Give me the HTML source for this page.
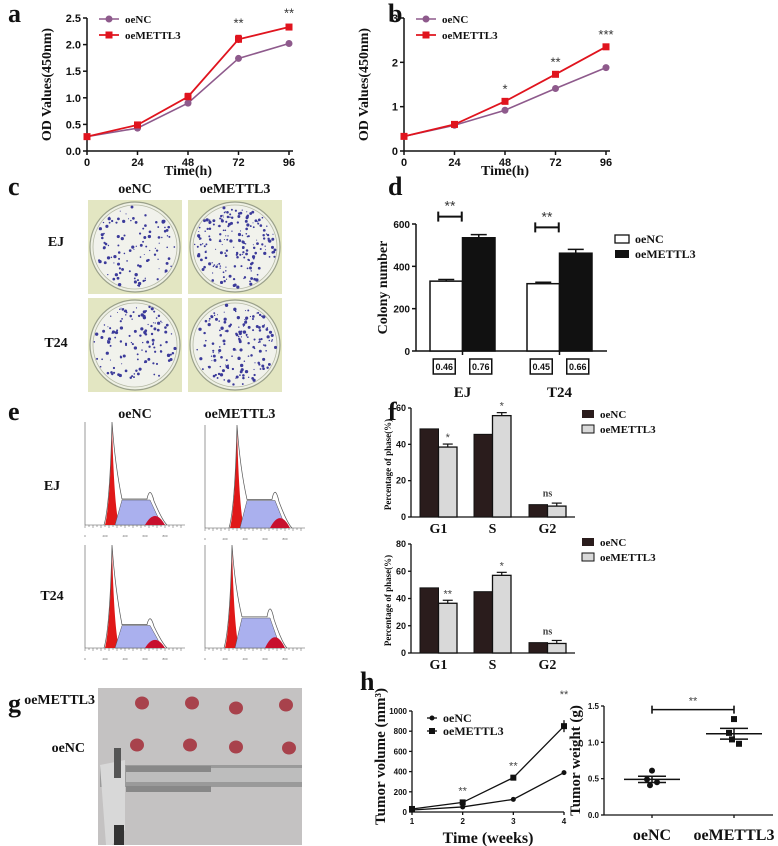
<!DOCTYPE html>
<html><head><meta charset="utf-8"><style>
body{margin:0;background:#fff}
svg{display:block;font-family:"Liberation Serif",serif}
</style></head><body>
<svg id="fig" width="778" height="846" viewBox="0 0 778 846" xmlns="http://www.w3.org/2000/svg">
<g id="root"></g>
</svg>
<script>
// ---- data ----
const timeH=[0,24,48,72,96];
const aNC=[0.27,0.43,0.9,1.74,2.02];
const aM=[0.27,0.49,1.02,2.1,2.33];
const aErr=[0.02,0.03,0.06,0.07,0.03];
const aStars=['','','','**','**'];
const bNC=[0.33,0.58,0.92,1.41,1.88];
const bM=[0.33,0.6,1.12,1.73,2.35];
const bStars=['','','*','**','***'];
const dCats=['EJ','T24'];
const dNC=[330,318];
const dM=[535,462];
const dErrNC=[8,7];
const dErrM=[15,18];
const dBox=[['0.46','0.76'],['0.45','0.66']];
const phases=['G1','S','G2'];
const fEJnc=[48.5,45.5,6.8];
const fEJm=[38.5,55.8,6.0];
const fEJstar=['*','*','ns'];
const fT24nc=[47.8,45.0,7.6];
const fT24m=[36.5,57.0,7.0];
const fT24star=['**','*','ns'];
const weeks=[1,2,3,4];
const hNC=[20,50,125,390];
const hM=[30,95,340,850];
const hStars=['','**','**','**'];
const wNC=[0.61,0.49,0.41,0.45];
const wM=[1.32,1.13,1.04,0.98];

const NS='http://www.w3.org/2000/svg';
const root=document.getElementById('root');
function el(tag,attrs,parent,txt){const e=document.createElementNS(NS,tag);for(const k in attrs)e.setAttribute(k,attrs[k]);if(txt!==undefined)e.textContent=txt;(parent||root).appendChild(e);return e;}
function txt(x,y,s,size,opts,parent){opts=opts||{};const e=el('text',{x:x,y:y,'font-size':size,'text-anchor':opts.a||'middle','font-weight':opts.w||'bold','font-family':opts.f||'Liberation Serif, serif',fill:opts.c||'#111'},parent,s);if(opts.r)e.setAttribute('transform','rotate(-90 '+x+' '+y+')');return e;}
function line(x1,y1,x2,y2,c,w,parent){return el('line',{x1:x1,y1:y1,x2:x2,y2:y2,stroke:c||'#111','stroke-width':w||1.5},parent);}
function lin(d0,d1,r0,r1){return v=>r0+(v-d0)/(d1-d0)*(r1-r0);}

[['a',8,22],['b',388,22],['c',8,195],['d',388,195],['e',8,420],['f',388,420],['g',8,712],['h',360,690]].forEach(p=>{
 const t=txt(p[1],p[2],p[0],26,{a:'start'});
 
 
});

function lineChart(name,x0,x1,y0,y1,ymax,ticks,tickFmt,nc,m,err,stars){
 const g=el('g',{});
 
 
 const X=lin(0,96,x0,x1),Y=lin(0,ymax,y0,y1);
 line(x0,y0,x0,y1,'#111',1.5,g);line(x0,y0,x1+4,y0,'#111',1.5,g);
 ticks.forEach(t=>{line(x0-4,Y(t),x0,Y(t),'#111',1.5,g);txt(x0-6,Y(t)+4,tickFmt(t),11,{a:'end',f:'Liberation Sans, sans-serif'},g);});
 timeH.forEach(t=>{line(X(t),y0,X(t),y0+4,'#111',1.5,g);txt(X(t),y0+15,String(t),11,{f:'Liberation Sans, sans-serif'},g);});
 txt((x0+x1)/2,y0+24,'Time(h)',14,{},g);
 txt(x0-36,(y0+y1)/2,'OD Values(450nm)',14,{r:1},g);
 const pN=timeH.map((t,i)=>X(t)+','+Y(nc[i])).join(' ');
 const pM=timeH.map((t,i)=>X(t)+','+Y(m[i])).join(' ');
 el('polyline',{points:pN,fill:'none',stroke:'#8e5a8c','stroke-width':1.6},g);
 el('polyline',{points:pM,fill:'none',stroke:'#e0141e','stroke-width':1.8},g);
 timeH.forEach((t,i)=>{
  const c=el('circle',{cx:X(t),cy:Y(nc[i]),r:3.5,fill:'#8e5a8c'},g);
  
  
  if(err){line(X(t),Y(m[i]-err[i]),X(t),Y(m[i]+err[i]),'#e0141e',1.5,g);line(X(t)-3,Y(m[i]+err[i]),X(t)+3,Y(m[i]+err[i]),'#e0141e',1.5,g);}
  const r=el('rect',{x:X(t)-3.5,y:Y(m[i])-3.5,width:7,height:7,fill:'#e0141e'},g);
  
  
  if(stars[i])txt(X(t),Y(m[i])-(err?err[i]*(y0-y1)/ymax:0)-8,stars[i],13,{w:'normal',f:'Liberation Sans, sans-serif',c:'#333'},g);
 });
 const lx=x0+12;
 line(lx,y1+1,lx+20,y1+1,'#8e5a8c',1.6,g);el('circle',{cx:lx+10,cy:y1+1,r:3.5,fill:'#8e5a8c'},g);
 txt(lx+26,y1+5,'oeNC',11,{a:'start'},g);
 line(lx,y1+17,lx+20,y1+17,'#e0141e',1.8,g);el('rect',{x:lx+6.5,y:y1+13.5,width:7,height:7,fill:'#e0141e'},g);
 txt(lx+26,y1+21,'oeMETTL3',11,{a:'start'},g);
}
lineChart('chart-a',87,289,151,18,2.5,[0,0.5,1,1.5,2,2.5],t=>t.toFixed(1),aNC,aM,aErr,aStars);
lineChart('chart-b',404,606,151,18,3,[0,1,2,3],t=>String(t),bNC,bM,null,bStars);

const cg=el('g',{});
txt(135,193,'oeNC',14,{},cg);txt(235,193,'oeMETTL3',14,{},cg);
txt(56,246,'EJ',14,{},cg);txt(56,347,'T24',14,{},cg);
let seed=7;function rnd(){seed=(seed*16807)%2147483647;return seed/2147483647;}
[[88,200,55],[188,200,100],[88,298,65],[188,298,80]].forEach(p=>{
 el('rect',{x:p[0],y:p[1],width:94,height:94,fill:'#e3e6c2'},cg);
 const cx=p[0]+47,cy=p[1]+47;
 el('circle',{cx:cx,cy:cy,r:45,fill:'#eef0e4',stroke:'#9aa08a','stroke-width':1.2},cg);
 el('circle',{cx:cx,cy:cy,r:42,fill:'#f1f2ec',stroke:'#b5b9a5','stroke-width':0.8},cg);
 for(let i=0;i<p[2]*2;i++){const a=rnd()*6.283,rr=Math.sqrt(rnd())*41;el('circle',{cx:cx+rr*Math.cos(a),cy:cy+rr*Math.sin(a),r:0.5+rnd()*1.2,fill:'#3b3a9a'},cg);}
});

(function(){
 const g=el('g',{});
 const x0=416,x1=607,y0=351,y1=224,Y=lin(0,600,y0,y1);
 line(x0,y0,x0,y1,'#111',1.5,g);line(x0,y0,x1,y0,'#111',1.5,g);
 [0,200,400,600].forEach(t=>{line(x0-4,Y(t),x0,Y(t),'#111',1.5,g);txt(x0-6,Y(t)+4,String(t),10,{a:'end',f:'Liberation Sans, sans-serif'},g);});
 txt(x0-29,(y0+y1)/2,'Colony number',14,{r:1},g);
 const groupX=[430,527];
 dCats.forEach((c,i)=>{
  const gx=groupX[i],bw=32.5;
  const b1=el('rect',{x:gx,y:Y(dNC[i]),width:bw,height:y0-Y(dNC[i]),fill:'#fff',stroke:'#111','stroke-width':1.5},g);
  
  const b2=el('rect',{x:gx+bw,y:Y(dM[i]),width:bw,height:y0-Y(dM[i]),fill:'#111',stroke:'#111','stroke-width':1.5},g);
  
  line(gx+bw/2,Y(dNC[i]),gx+bw/2,Y(dNC[i]+dErrNC[i]),'#111',1.5,g);line(gx+bw/2-8,Y(dNC[i]+dErrNC[i]),gx+bw/2+8,Y(dNC[i]+dErrNC[i]),'#111',1.5,g);
  line(gx+1.5*bw,Y(dM[i]),gx+1.5*bw,Y(dM[i]+dErrM[i]),'#111',1.5,g);line(gx+1.5*bw-8,Y(dM[i]+dErrM[i]),gx+1.5*bw+8,Y(dM[i]+dErrM[i]),'#111',1.5,g);
  line(gx+bw,y0,gx+bw,y0+4,'#111',1.5,g);
  const by=Y(Math.max(dM[i]+dErrM[i],dNC[i]))-(i?22:18);
  const bx1=gx+bw/2-8,bx2=gx+1.5*bw-17;
  line(bx1,by,bx2,by,'#111',2,g);line(bx1,by-5,bx1,by+5,'#111',2,g);line(bx2,by-5,bx2,by+5,'#111',2,g);
  txt((bx1+bx2)/2,by-6,'**',14,{w:'normal',f:'Liberation Sans, sans-serif',c:'#333'},g);
  [0,1].forEach(j=>{const cx=gx+bw/2+j*bw+(j?2:-2);el('rect',{x:cx-11,y:359,width:22,height:15,fill:'#fff',stroke:'#111','stroke-width':1.5},g);txt(cx,370,dBox[i][j],9,{f:'Liberation Sans, sans-serif'},g);});
  txt(gx+bw,397,c,15,{},g);
 });
 el('rect',{x:615,y:235,width:14,height:8,fill:'#fff',stroke:'#111','stroke-width':1.3},g);
 txt(635,243,'oeNC',12,{a:'start'},g);
 el('rect',{x:615,y:250,width:14,height:8,fill:'#111'},g);
 txt(635,258,'oeMETTL3',12,{a:'start'},g);
})();

const eg=el('g',{});
txt(135,418,'oeNC',14,{},eg);txt(240,418,'oeMETTL3',14,{},eg);
txt(52,490,'EJ',14,{},eg);txt(52,600,'T24',14,{},eg);
[[85,422,0,1],[205,425,15,1.1],[85,545,0,0.9],[205,545,0,1.2]].forEach(p=>{
 const x=p[0],y=p[1],ox=p[2],s=p[3];const b=y+103;
 line(x,y,x,b,'#555',0.6,eg);line(x,b,x+100,b,'#555',0.6,eg);
 for(let i=0;i<=24;i++)line(x+i*4,b,x+i*4,b+(i%2?2:3),'#555',0.5,eg);
 const px=x+27+ox/3;
 el('path',{d:`M${px-7},${b} Q${px-2},${b-20} ${px},${y+2} Q${px+2},${b-20} ${px+7},${b} Z`,fill:'#e01818'},eg);
 el('path',{d:`M${px+3},${b} L${px+10},${b-25*s} L${px+38},${b-25*s} L${px+45},${b-10} L${px+50},${b} Z`,fill:'#aab0ee',stroke:'#555','stroke-width':0.5},eg);
 el('path',{d:`M${px+33},${b} Q${px+43},${b-18*s} ${px+53},${b} Z`,fill:'#c8102e'},eg);
 el('path',{d:`M${px-8},${b} Q${px-2},${b-20} ${px},${y} Q${px+3},${b-60} ${px+10},${b-26*s} L${px+35},${b-26*s} Q${px+38},${b-40*s} ${px+42},${b-24*s} Q${px+50},${b-5} ${px+55},${b}`,fill:'none',stroke:'#555','stroke-width':0.7},eg);
 for(let i=0;i<5;i++)txt(x+i*20,b+12,String(i*200),3,{w:'normal',f:'Liberation Sans, sans-serif',c:'#666'},eg);
});

function phaseChart(name,y0,y1,ymax,ticks,nc,m,stars,legY){
 const g=el('g',{});
 const x0=411,x1=575,Y=lin(0,ymax,y0,y1);
 line(x0,y0,x0,y1,'#111',1.3,g);line(x0,y0,x1,y0,'#111',1.3,g);
 ticks.forEach(t=>{line(x0-3,Y(t),x0,Y(t),'#111',1.3,g);txt(x0-5,Y(t)+3,String(t),9,{a:'end',f:'Liberation Sans, sans-serif'},g);});
 txt(x0-20,(y0+y1)/2+2,'Percentage of phase(%)',9,{r:1},g);
 const gx=[420,474,529];
 phases.forEach((p,i)=>{
  const bw=18.5;
  const b1=el('rect',{x:gx[i],y:Y(nc[i]),width:bw,height:y0-Y(nc[i]),fill:'#2a1c1c',stroke:'#111','stroke-width':1},g);
  
  const b2=el('rect',{x:gx[i]+bw,y:Y(m[i]),width:bw,height:y0-Y(m[i]),fill:'#d9d9d9',stroke:'#111','stroke-width':1.3},g);
  
  line(gx[i]+1.5*bw,Y(m[i]),gx[i]+1.5*bw,Y(m[i])-3,'#111',1.2,g);line(gx[i]+1.5*bw-5,Y(m[i])-3,gx[i]+1.5*bw+5,Y(m[i])-3,'#111',1.2,g);
  const sy=stars[i]==='ns'?Y(Math.max(nc[i],m[i]))-8:Y(m[i])-6;
  txt(stars[i]==='ns'?gx[i]+bw:gx[i]+1.5*bw,sy,stars[i],stars[i]==='ns'?10:11,{w:stars[i]==='ns'?'bold':'normal',f:stars[i]==='ns'?'Liberation Serif, serif':'Liberation Sans, sans-serif',c:'#444'},g);
  txt(gx[i]+bw,y0+16,p,14,{},g);
 });
 el('rect',{x:582,y:legY,width:12,height:8,fill:'#2a1c1c'},g);txt(600,legY+8,'oeNC',11,{a:'start'},g);
 el('rect',{x:582,y:legY+15,width:12,height:8,fill:'#d9d9d9',stroke:'#111','stroke-width':1},g);txt(600,legY+23,'oeMETTL3',11,{a:'start'},g);
}
phaseChart('chart-f-ej',517,408,60,[0,20,40,60],fEJnc,fEJm,fEJstar,410);
phaseChart('chart-f-t24',653,544,80,[0,20,40,60,80],fT24nc,fT24m,fT24star,538);

(function(){
 const g=el('g',{});
 txt(95,704,'oeMETTL3',14,{a:'end'},g);txt(85,752,'oeNC',14,{a:'end'},g);
 el('rect',{x:98,y:688,width:204,height:157,fill:'#c4c2c2'},g);
 [[142,703],[192,703],[236,708],[286,705],[137,745],[190,745],[236,747],[289,748]].forEach(p=>el('ellipse',{cx:p[0],cy:p[1],rx:7,ry:6.5,fill:'#a8424c'},g));
 el('rect',{x:100,y:765,width:202,height:22,fill:'#9a9a9a'},g);
 el('rect',{x:126,y:768,width:176,height:14,fill:'#bdbdbd'},g);
 el('rect',{x:126,y:766,width:85,height:6,fill:'#888'},g);
 el('rect',{x:126,y:786,width:85,height:6,fill:'#888'},g);
 el('path',{d:'M100,765 L125,760 L125,830 L112,845 L106,845 Z',fill:'#d8d8d8'},g);
 el('rect',{x:114,y:748,width:7,height:30,fill:'#555'},g);
 el('rect',{x:114,y:825,width:10,height:20,fill:'#333'},g);
})();

(function(){
 const g=el('g',{});
 const x0=412,x1=564,y0=812,y1=711,X=lin(1,4,x0,x1),Y=lin(0,1000,y0,y1);
 line(x0,y0,x0,y1,'#111',1.3,g);line(x0,y0,x1,y0,'#111',1.3,g);
 [0,200,400,600,800,1000].forEach(t=>{line(x0-3,Y(t),x0,Y(t),'#111',1.3,g);txt(x0-5,Y(t)+3,String(t),8,{a:'end',f:'Liberation Sans, sans-serif'},g);});
 weeks.forEach(w=>{line(X(w),y0,X(w),y0+3,'#111',1.3,g);txt(X(w),y0+12,String(w),8,{f:'Liberation Sans, sans-serif'},g);});
 txt((x0+x1)/2,y0+31,'Time (weeks)',16,{},g);
 txt(x0-27,(y0+y1)/2-5,'Tumor volume (mm³)',15,{r:1},g);
 el('polyline',{points:weeks.map((w,i)=>X(w)+','+Y(hNC[i])).join(' '),fill:'none',stroke:'#111','stroke-width':1.3},g);
 el('polyline',{points:weeks.map((w,i)=>X(w)+','+Y(hM[i])).join(' '),fill:'none',stroke:'#111','stroke-width':1.3},g);
 weeks.forEach((w,i)=>{
  el('circle',{cx:X(w),cy:Y(hNC[i]),r:2.5,fill:'#111'},g);
  el('rect',{x:X(w)-3,y:Y(hM[i])-3,width:6,height:6,fill:'#111'},g);
  if(i>1){const e=hM[i]*0.07;line(X(w),Y(hM[i]-e),X(w),Y(hM[i]+e),'#111',1.3,g);}
  if(hStars[i])txt(X(w),Y(hM[i])-(i==3?28:8),hStars[i],11,{w:'normal',f:'Liberation Sans, sans-serif',c:'#444'},g);
 });
 line(427,718,437,718,'#111',1.3,g);el('circle',{cx:432,cy:718,r:2.5,fill:'#111'},g);txt(443,722,'oeNC',12,{a:'start'},g);
 line(427,731,437,731,'#111',1.3,g);el('rect',{x:429,y:728,width:6,height:6,fill:'#111'},g);txt(443,735,'oeMETTL3',12,{a:'start'},g);
})();

(function(){
 const g=el('g',{});
 const x0=604,x1=773,y0=815,y1=706,Y=lin(0,1.5,y0,y1);
 line(x0,y0,x0,y1,'#111',1.3,g);line(x0,y0,x1,y0,'#111',1.3,g);
 [0,0.5,1,1.5].forEach(t=>{line(x0-3,Y(t),x0,Y(t),'#111',1.3,g);txt(x0-5,Y(t)+3,t.toFixed(1),8,{a:'end',f:'Liberation Sans, sans-serif'},g);});
 txt(x0-24,(y0+y1)/2,'Tumor weight (g)',15,{r:1},g);
 const gx=[652,734];
 [[wNC,'oeNC','circle'],[wM,'oeMETTL3','square']].forEach((s,k)=>{
  const v=s[0],cx=gx[k];const mean=v.reduce((a,b)=>a+b,0)/v.length;
  const sd=Math.sqrt(v.reduce((a,b)=>a+(b-mean)*(b-mean),0)/(v.length-1));const se=sd/2;
  line(cx-28,Y(mean),cx+28,Y(mean),'#111',1.5,g);
  line(cx-14,Y(mean+se),cx+14,Y(mean+se),'#111',1.5,g);line(cx-14,Y(mean-se),cx+14,Y(mean-se),'#111',1.5,g);
  line(cx,Y(mean-se),cx,Y(mean+se),'#111',1.5,g);
  const offs=[0,-5,-2,5];
  v.forEach((val,i)=>{
   const px=cx+offs[i];
   const m=s[2]==='circle'?el('circle',{cx:px,cy:Y(val),r:3,fill:'#111'},g):el('rect',{x:px-3,y:Y(val)-3,width:6,height:6,fill:'#111'},g);
   
   
  });
  line(cx,y0,cx,y0+3,'#111',1.3,g);
  txt(cx,y0+25,s[1],16,{},g);
 });
 const by=Y(1.45);line(gx[0],by,gx[1],by,'#111',1.6,g);line(gx[0],by-4,gx[0],by+4,'#111',1.6,g);line(gx[1],by-4,gx[1],by+4,'#111',1.6,g);
 txt((gx[0]+gx[1])/2,by-5,'**',11,{w:'normal',f:'Liberation Sans, sans-serif',c:'#444'},g);
})();
</script>
</body></html>
